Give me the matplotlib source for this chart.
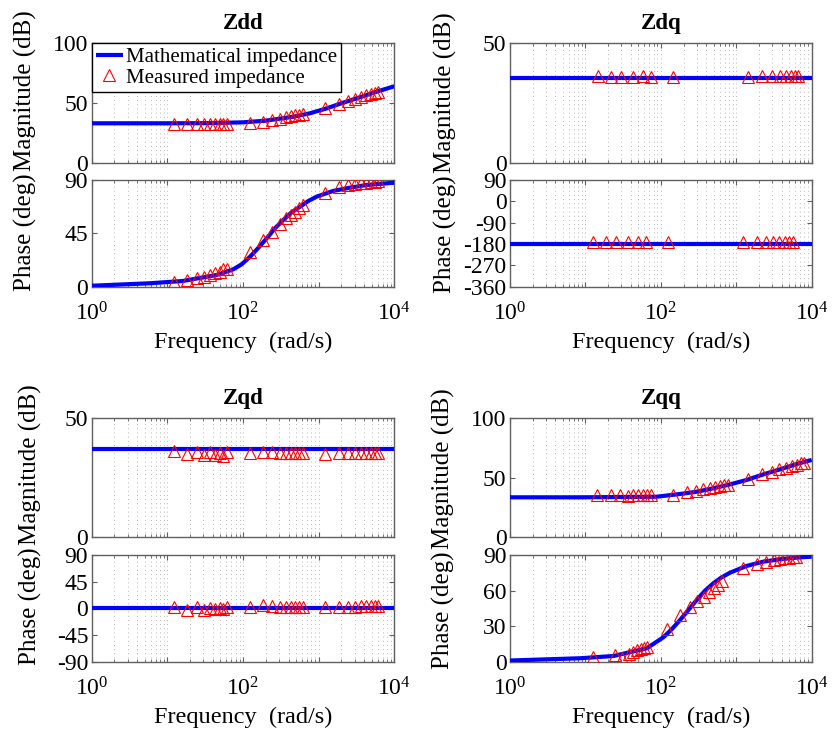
import numpy as np
import matplotlib
matplotlib.use('Agg')
import matplotlib.pyplot as plt
from matplotlib.lines import Line2D
from matplotlib.ticker import FixedLocator, FixedFormatter, NullFormatter, LogLocator

plt.rcParams['font.family'] = ['Liberation Serif', 'DejaVu Serif']
plt.rcParams['mathtext.fontset'] = 'custom'
plt.rcParams['mathtext.rm'] = 'Liberation Serif'
plt.rcParams['mathtext.it'] = 'Liberation Serif:italic'
plt.rcParams['mathtext.bf'] = 'Liberation Serif:bold'
plt.rcParams['axes.unicode_minus'] = False

# ---------------- data ----------------
titles = ['Zdd', 'Zdq', 'Zqd', 'Zqq']
legend_labels = ['Mathematical impedance', 'Measured impedance']
x_label = 'Frequency  (rad/s)'
mag_label = 'Magnitude (dB)'
phase_label = 'Phase (deg)'
xtick_vals = [1, 10, 100, 1000, 10000]
xtick_labels = [r'$\mathrm{10^{0}}$', '', r'$\mathrm{10^{2}}$', '', r'$\mathrm{10^{4}}$']

# model curves (rad/s, dB / deg)
w_dd_mag_model = [1, 10, 31.6, 100, 200, 316, 462, 769, 1277, 2118, 3520, 5850, 10000]
dd_mag_model = [33.0, 33.0, 33.1, 33.8, 35.2, 37.0, 38.5, 41.4, 45.5, 50.3, 54.8, 59.5, 64.0]
w_dd_ph_model = [1, 5.9, 16, 45, 74.5, 96, 124, 160, 206, 265, 341, 440, 567, 731, 942,
                 1563, 2595, 4313, 10000]
dd_ph_model = [0.8, 2.9, 4.8, 9.9, 14.7, 18.9, 25.3, 32.9, 40.8, 49.3, 56.3, 62.8, 67.5,
               72.3, 76.0, 80.8, 83.5, 85.8, 87.7]
w_flat_model = [1, 10000]
dq_mag_model = [35.6, 35.6]
dq_ph_model = [-180, -180]
qd_mag_model = [37.1, 37.1]
qd_ph_model = [0, 0]
w_qq_mag_model = [1, 8.5, 88, 180, 299, 498, 828, 1377, 2290, 3811, 6340, 10000]
qq_mag_model = [33.6, 33.6, 34.1, 36.4, 38.3, 41.2, 44.5, 48.2, 52.9, 57.1, 61.6, 65.0]
w_qq_ph_model = [1, 8.5, 23.5, 65, 108, 139, 180, 232, 299, 385, 498, 641, 828, 1377,
                 2290, 3811, 6340, 10000]
qq_ph_model = [1.0, 2.9, 4.8, 11.3, 20.6, 27.3, 35.2, 43.6, 52.1, 59.9, 66.2, 71.2, 75.1,
               80.8, 84.4, 86.4, 87.8, 88.6]

# measured points
w_left = [12.3, 18.4, 24.5, 30.6, 36.8, 42.9, 49.0, 55.1, 61.3,
          123, 184, 245, 306, 368, 429, 490, 551, 613,
          1226, 1838, 2451, 3064, 3677, 4289, 4902, 5515, 6128]
dd_mag_meas = [32.3, 32.2, 32.3, 32.1, 32.3, 32.2, 32.4, 32.2, 32.3,
               33.0, 34.3, 36.0, 37.0, 38.0, 38.9, 39.6, 40.2, 40.6,
               45.8, 49.3, 52.0, 53.6, 54.9, 56.4, 57.5, 58.6, 59.2]
dd_ph_meas = [4.2, 5.6, 7.1, 8.2, 9.5, 11.5, 12.5, 15.0, 14.7,
              29.5, 39.4, 46.4, 52.9, 57.7, 60.5, 63.3, 66.2, 68.9,
              79.3, 84.4, 85.8, 86.6, 87.2, 87.8, 88.3, 88.6, 88.8]
qd_mag_meas = [36.4, 35.0, 35.8, 34.6, 36.0, 34.5, 35.6, 34.3, 36.0,
               35.3, 35.7, 35.9, 35.6, 35.5, 35.4, 35.6, 35.3, 35.4,
               35.2, 35.3, 35.4, 35.3, 35.5, 35.5, 35.6, 35.5, 35.4]
qd_ph_meas = [1.7, -2.8, 1.5, -3.0, 1.0, -1.5, 1.2, -0.5, 1.5,
              2.8, 5.5, 3.5, 2.0, 3.0, 2.5, 3.0, 2.2, 2.0,
              2.2, 2.0, 2.5, 3.0, 3.2, 3.5, 3.8, 3.5, 3.2]

w_dq_mag = [14.8, 21.6, 29.4, 43.2, 57.5, 73.4, 146.6,
            1449, 2177, 2956, 3811, 4532, 5328, 6026, 6668]
dq_mag_meas = [36.1, 36.0, 36.0, 36.0, 36.1, 36.0, 36.0,
               36.0, 36.1, 36.2, 36.3, 36.3, 36.2, 36.2, 36.1]
w_dq_ph = [12.5, 18.8, 25.5, 37.1, 50.3, 63.6, 126,
           1243, 1866, 2483, 3105, 3733, 4436, 5067, 5611]
dq_ph_meas = [-172, -172, -172, -172, -172, -172, -172,
              -172, -171.5, -171, -171, -171, -171, -171.5, -172]

w_qq_mag = [14.4, 21.6, 28.8, 36.4, 43.2, 50.4, 57.5, 65.0, 73.5,
            146.6, 220, 293, 366, 449, 524, 610, 689, 786,
            1449, 2177, 2956, 3733, 4575, 5445, 6340, 7160, 7925]
qq_mag_meas = [35.2, 35.3, 35.2, 35.1, 35.3, 35.2, 35.3, 35.2, 35.3,
               35.8, 37.8, 38.9, 40.3, 41.4, 42.3, 43.1, 43.7, 44.2,
               49.2, 52.9, 54.9, 57.1, 58.2, 59.9, 61.0, 62.2, 62.7]
w_qq_ph = [12.5, 24.7, 30.3, 38.3, 43.3, 48.9, 54.6, 60.5, 66.3,
           122, 180, 244, 305, 374, 440, 508, 568, 641,
           1243, 1885, 2513, 3142, 3770, 4398, 5027, 5655, 6283]
qq_ph_meas = [3.8, 5.4, 2.9, 6.8, 8.2, 9.6, 11.0, 11.6, 12.4,
              27.4, 39.1, 46.2, 51.0, 54.6, 58.8, 62.2, 65.0, 67.8,
              79.0, 82.7, 84.1, 85.5, 86.9, 87.5, 87.8, 88.1, 88.1]

mag_yticks = [[0, 50, 100], [0, 50], [0, 50], [0, 50, 100]]
ph_yticks = [[0, 45, 90], [-360, -270, -180, -90, 0, 90],
             [-90, -45, 0, 45, 90], [0, 30, 60, 90]]

panels = [
    (w_dd_mag_model, dd_mag_model, w_dd_ph_model, dd_ph_model,
     w_left, dd_mag_meas, w_left, dd_ph_meas),
    (w_flat_model, dq_mag_model, w_flat_model, dq_ph_model,
     w_dq_mag, dq_mag_meas, w_dq_ph, dq_ph_meas),
    (w_flat_model, qd_mag_model, w_flat_model, qd_ph_model,
     w_left, qd_mag_meas, w_left, qd_ph_meas),
    (w_qq_mag_model, qq_mag_model, w_qq_ph_model, qq_ph_model,
     w_qq_mag, qq_mag_meas, w_qq_ph, qq_ph_meas),
]

# ---------------- layout ----------------
W, H = 837, 735
fig = plt.figure(figsize=(W / 100, H / 100), dpi=100)

col_x = [(91.7, 394.3), (510.0, 811.7)]
row_mag = [(43.3, 162.7), (418.3, 537.3)]
row_ph = [(180.0, 286.7), (555.0, 661.7)]
ylab_pos = [(25, 172), (445, 174), (30, 546), (443, 550)]

spine_col = '#606060'
FS_TICK = 17
FS_LAB = 18


def make_ax(x0, x1, y0, y1):
    return fig.add_axes([x0 / W, 1 - y1 / H, (x1 - x0) / W, (y1 - y0) / H])


def style(ax, yticks, show_x):
    ax.set_xscale('log')
    ax.set_xlim(1, 1e4)
    ax.set_ylim(yticks[0], yticks[-1])
    ax.set_yticks(yticks)
    ax.set_yticklabels([str(v) for v in yticks])
    ax.xaxis.set_major_locator(FixedLocator(xtick_vals))
    ax.xaxis.set_minor_locator(LogLocator(base=10, subs=np.arange(2, 10),
                                          numticks=100))
    ax.xaxis.set_minor_formatter(NullFormatter())
    if show_x:
        ax.xaxis.set_major_formatter(FixedFormatter(xtick_labels))
    else:
        ax.xaxis.set_major_formatter(NullFormatter())
    ax.grid(True, which='both', axis='x', color='#a0a0a0',
            linestyle=(0, (1, 4)), linewidth=0.6)
    ax.set_axisbelow(True)
    for s in ax.spines.values():
        s.set_color(spine_col)
        s.set_linewidth(1.0)
    ax.tick_params(which='both', direction='in', top=True, right=True,
                   color=spine_col, labelsize=FS_TICK)
    ax.tick_params(which='major', length=3.5)
    ax.tick_params(which='minor', length=2)
    ax.tick_params(axis='y', pad=2.5)
    ax.tick_params(axis='x', pad=11.5)


line_kw = dict(color='blue', lw=3, solid_capstyle='butt', zorder=3)
mk_kw = dict(linestyle='none', marker='^', ms=9, mfc='none', mec='red', mew=0.8,
             zorder=4)

for i, (wm, mm, wp, pm, wmm, mmeas, wpm, pmeas) in enumerate(panels):
    r, c = divmod(i, 2)
    x0, x1 = col_x[c]
    axm = make_ax(x0, x1, *row_mag[r])
    axp = make_ax(x0, x1, *row_ph[r])
    style(axm, mag_yticks[i], False)
    style(axp, ph_yticks[i], True)

    axm.plot(wm, mm, **line_kw)
    axm.plot(wmm, mmeas, **mk_kw)
    axp.plot(wp, pm, **line_kw)
    axp.plot(wpm, pmeas, **mk_kw)

    axm.set_title(titles[i], fontweight='bold', fontsize=16.5, pad=10)
    axp.set_xlabel(x_label, fontsize=17.5, labelpad=4)

    lx, jy = ylab_pos[i]
    fig.text(lx / W, 1 - (jy - 1) / H, mag_label, rotation=90, ha='center',
             va='bottom', fontsize=FS_LAB)
    fig.text(lx / W, 1 - (jy + 1) / H, phase_label, rotation=90, ha='center',
             va='top', fontsize=FS_LAB)

    if i == 0:
        handles = [Line2D([], [], **line_kw), Line2D([], [], **mk_kw)]
        leg = axm.legend(handles, legend_labels, loc='upper left',
                         bbox_to_anchor=(0, 1), borderaxespad=0, fancybox=False,
                         edgecolor='black', framealpha=1, fontsize=15,
                         handlelength=1.3, handletextpad=0.15, borderpad=0.2,
                         labelspacing=0.05, numpoints=1)
        leg.get_frame().set_linewidth(1.0)
        leg.set_zorder(10)

fig.savefig('out.png', dpi=100)
